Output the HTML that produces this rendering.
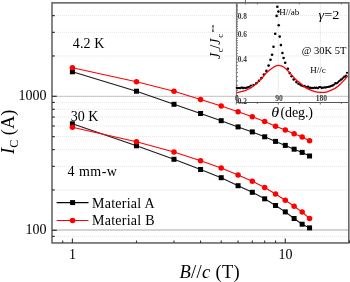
<!DOCTYPE html>
<html><head><meta charset="utf-8"><style>
html,body{margin:0;padding:0;background:#fff;width:350px;height:282px;overflow:hidden}
svg{display:block}
</style></head><body>
<svg width="350" height="282" viewBox="0 0 350 282">
<rect width="350" height="282" fill="#fff"/>
<line x1="52.0" y1="236.43" x2="348.8" y2="236.43" stroke="#dadada" stroke-width="0.7" stroke-dasharray="1 1"/>
<line x1="52.0" y1="189.96" x2="348.8" y2="189.96" stroke="#dadada" stroke-width="0.7" stroke-dasharray="1 1"/>
<line x1="52.0" y1="166.37" x2="348.8" y2="166.37" stroke="#dadada" stroke-width="0.7" stroke-dasharray="1 1"/>
<line x1="52.0" y1="149.62" x2="348.8" y2="149.62" stroke="#dadada" stroke-width="0.7" stroke-dasharray="1 1"/>
<line x1="52.0" y1="136.64" x2="348.8" y2="136.64" stroke="#dadada" stroke-width="0.7" stroke-dasharray="1 1"/>
<line x1="52.0" y1="126.03" x2="348.8" y2="126.03" stroke="#dadada" stroke-width="0.7" stroke-dasharray="1 1"/>
<line x1="52.0" y1="117.06" x2="348.8" y2="117.06" stroke="#dadada" stroke-width="0.7" stroke-dasharray="1 1"/>
<line x1="52.0" y1="109.29" x2="348.8" y2="109.29" stroke="#dadada" stroke-width="0.7" stroke-dasharray="1 1"/>
<line x1="52.0" y1="102.43" x2="348.8" y2="102.43" stroke="#dadada" stroke-width="0.7" stroke-dasharray="1 1"/>
<line x1="52.0" y1="55.96" x2="348.8" y2="55.96" stroke="#dadada" stroke-width="0.7" stroke-dasharray="1 1"/>
<line x1="52.0" y1="32.37" x2="348.8" y2="32.37" stroke="#dadada" stroke-width="0.7" stroke-dasharray="1 1"/>
<line x1="52.0" y1="15.62" x2="348.8" y2="15.62" stroke="#dadada" stroke-width="0.7" stroke-dasharray="1 1"/>
<line x1="52.0" y1="230.1" x2="348.8" y2="230.1" stroke="#c4c4c4" stroke-width="1.5"/>
<line x1="52.0" y1="96.35" x2="348.8" y2="96.35" stroke="#cdcdcd" stroke-width="1.1"/>
<polyline points="72.40,71.80 136.49,91.20 173.98,104.30 200.58,113.50 221.21,120.70 238.07,126.90 252.32,131.90 264.67,136.80 275.56,141.40 285.30,145.40 294.11,149.20 302.16,152.40 309.56,156.00" fill="none" stroke="#1a1a1a" stroke-width="1.1"/>
<polyline points="72.40,123.80 136.49,145.80 173.98,159.30 200.58,169.50 221.21,177.70 238.07,185.70 252.32,192.30 264.67,198.80 275.56,205.50 285.30,211.90 294.11,218.50 302.16,224.20 309.56,227.90" fill="none" stroke="#1a1a1a" stroke-width="1.1"/>
<polyline points="72.40,67.70 136.49,81.80 173.98,91.30 200.58,99.50 221.21,105.90 238.07,111.70 252.32,116.70 264.67,121.40 275.56,126.30 285.30,130.10 294.11,133.70 302.16,137.10 309.56,140.70" fill="none" stroke="#f00" stroke-width="1.1"/>
<polyline points="72.40,127.20 136.49,141.70 173.98,152.00 200.58,160.70 221.21,167.90 238.07,174.90 252.32,181.30 264.67,187.50 275.56,194.00 285.30,200.20 294.11,206.20 302.16,212.10 309.56,218.50" fill="none" stroke="#f00" stroke-width="1.1"/>
<rect x="69.90" y="69.30" width="5.0" height="5.0" fill="#000"/><rect x="133.99" y="88.70" width="5.0" height="5.0" fill="#000"/><rect x="171.48" y="101.80" width="5.0" height="5.0" fill="#000"/><rect x="198.08" y="111.00" width="5.0" height="5.0" fill="#000"/><rect x="218.71" y="118.20" width="5.0" height="5.0" fill="#000"/><rect x="235.57" y="124.40" width="5.0" height="5.0" fill="#000"/><rect x="249.82" y="129.40" width="5.0" height="5.0" fill="#000"/><rect x="262.17" y="134.30" width="5.0" height="5.0" fill="#000"/><rect x="273.06" y="138.90" width="5.0" height="5.0" fill="#000"/><rect x="282.80" y="142.90" width="5.0" height="5.0" fill="#000"/><rect x="291.61" y="146.70" width="5.0" height="5.0" fill="#000"/><rect x="299.66" y="149.90" width="5.0" height="5.0" fill="#000"/><rect x="307.06" y="153.50" width="5.0" height="5.0" fill="#000"/>
<rect x="69.90" y="121.30" width="5.0" height="5.0" fill="#000"/><rect x="133.99" y="143.30" width="5.0" height="5.0" fill="#000"/><rect x="171.48" y="156.80" width="5.0" height="5.0" fill="#000"/><rect x="198.08" y="167.00" width="5.0" height="5.0" fill="#000"/><rect x="218.71" y="175.20" width="5.0" height="5.0" fill="#000"/><rect x="235.57" y="183.20" width="5.0" height="5.0" fill="#000"/><rect x="249.82" y="189.80" width="5.0" height="5.0" fill="#000"/><rect x="262.17" y="196.30" width="5.0" height="5.0" fill="#000"/><rect x="273.06" y="203.00" width="5.0" height="5.0" fill="#000"/><rect x="282.80" y="209.40" width="5.0" height="5.0" fill="#000"/><rect x="291.61" y="216.00" width="5.0" height="5.0" fill="#000"/><rect x="299.66" y="221.70" width="5.0" height="5.0" fill="#000"/><rect x="307.06" y="225.40" width="5.0" height="5.0" fill="#000"/>
<circle cx="72.40" cy="67.70" r="2.75" fill="#f00"/><circle cx="136.49" cy="81.80" r="2.75" fill="#f00"/><circle cx="173.98" cy="91.30" r="2.75" fill="#f00"/><circle cx="200.58" cy="99.50" r="2.75" fill="#f00"/><circle cx="221.21" cy="105.90" r="2.75" fill="#f00"/><circle cx="238.07" cy="111.70" r="2.75" fill="#f00"/><circle cx="252.32" cy="116.70" r="2.75" fill="#f00"/><circle cx="264.67" cy="121.40" r="2.75" fill="#f00"/><circle cx="275.56" cy="126.30" r="2.75" fill="#f00"/><circle cx="285.30" cy="130.10" r="2.75" fill="#f00"/><circle cx="294.11" cy="133.70" r="2.75" fill="#f00"/><circle cx="302.16" cy="137.10" r="2.75" fill="#f00"/><circle cx="309.56" cy="140.70" r="2.75" fill="#f00"/>
<circle cx="72.40" cy="127.20" r="2.75" fill="#f00"/><circle cx="136.49" cy="141.70" r="2.75" fill="#f00"/><circle cx="173.98" cy="152.00" r="2.75" fill="#f00"/><circle cx="200.58" cy="160.70" r="2.75" fill="#f00"/><circle cx="221.21" cy="167.90" r="2.75" fill="#f00"/><circle cx="238.07" cy="174.90" r="2.75" fill="#f00"/><circle cx="252.32" cy="181.30" r="2.75" fill="#f00"/><circle cx="264.67" cy="187.50" r="2.75" fill="#f00"/><circle cx="275.56" cy="194.00" r="2.75" fill="#f00"/><circle cx="285.30" cy="200.20" r="2.75" fill="#f00"/><circle cx="294.11" cy="206.20" r="2.75" fill="#f00"/><circle cx="302.16" cy="212.10" r="2.75" fill="#f00"/><circle cx="309.56" cy="218.50" r="2.75" fill="#f00"/>
<line x1="236.4" y1="2.85" x2="236.4" y2="102.5" stroke="#7a7a7a" stroke-width="1"/>
<line x1="236.4" y1="102.5" x2="348.8" y2="102.5" stroke="#555" stroke-width="1"/>
<line x1="278.30" y1="2.85" x2="278.30" y2="102.5" stroke="#c8c8c8" stroke-width="0.8" stroke-dasharray="1 1.2"/>
<line x1="320.31" y1="2.85" x2="320.31" y2="102.5" stroke="#c8c8c8" stroke-width="0.8" stroke-dasharray="1 1.2"/>
<line x1="236.30" y1="102.5" x2="236.30" y2="104.5" stroke="#444" stroke-width="0.8"/>
<line x1="278.30" y1="102.5" x2="278.30" y2="104.5" stroke="#444" stroke-width="0.8"/>
<line x1="320.31" y1="102.5" x2="320.31" y2="104.5" stroke="#444" stroke-width="0.8"/>
<line x1="257.30" y1="102.5" x2="257.30" y2="103.8" stroke="#444" stroke-width="0.8"/>
<line x1="299.30" y1="102.5" x2="299.30" y2="103.8" stroke="#444" stroke-width="0.8"/>
<line x1="341.31" y1="102.5" x2="341.31" y2="103.8" stroke="#444" stroke-width="0.8"/>
<line x1="257.30" y1="2.85" x2="257.30" y2="4.35" stroke="#444" stroke-width="0.8"/>
<line x1="299.30" y1="2.85" x2="299.30" y2="4.35" stroke="#444" stroke-width="0.8"/>
<line x1="341.31" y1="2.85" x2="341.31" y2="4.35" stroke="#444" stroke-width="0.8"/>
<line x1="245.4" y1="0" x2="245.4" y2="4.35" stroke="#444" stroke-width="0.8"/>
<line x1="236.4" y1="101.45" x2="238.0" y2="101.45" stroke="#555" stroke-width="0.8"/>
<line x1="236.4" y1="95.62" x2="238.0" y2="95.62" stroke="#555" stroke-width="0.8"/>
<line x1="236.4" y1="90.29" x2="238.0" y2="90.29" stroke="#555" stroke-width="0.8"/>
<line x1="236.4" y1="85.39" x2="238.0" y2="85.39" stroke="#555" stroke-width="0.8"/>
<line x1="236.4" y1="80.85" x2="238.0" y2="80.85" stroke="#555" stroke-width="0.8"/>
<line x1="236.4" y1="76.63" x2="238.0" y2="76.63" stroke="#555" stroke-width="0.8"/>
<line x1="236.4" y1="72.67" x2="238.0" y2="72.67" stroke="#555" stroke-width="0.8"/>
<line x1="236.4" y1="68.96" x2="238.0" y2="68.96" stroke="#555" stroke-width="0.8"/>
<line x1="236.4" y1="65.46" x2="238.0" y2="65.46" stroke="#555" stroke-width="0.8"/>
<line x1="236.4" y1="62.15" x2="238.0" y2="62.15" stroke="#555" stroke-width="0.8"/>
<line x1="236.4" y1="59.01" x2="238.0" y2="59.01" stroke="#555" stroke-width="0.8"/>
<line x1="236.4" y1="56.02" x2="238.0" y2="56.02" stroke="#555" stroke-width="0.8"/>
<line x1="236.4" y1="53.17" x2="238.0" y2="53.17" stroke="#555" stroke-width="0.8"/>
<line x1="236.4" y1="50.45" x2="238.0" y2="50.45" stroke="#555" stroke-width="0.8"/>
<line x1="236.4" y1="47.84" x2="238.0" y2="47.84" stroke="#555" stroke-width="0.8"/>
<line x1="236.4" y1="45.35" x2="238.0" y2="45.35" stroke="#555" stroke-width="0.8"/>
<line x1="236.4" y1="42.94" x2="238.0" y2="42.94" stroke="#555" stroke-width="0.8"/>
<line x1="236.4" y1="40.63" x2="238.0" y2="40.63" stroke="#555" stroke-width="0.8"/>
<line x1="236.4" y1="38.41" x2="238.0" y2="38.41" stroke="#555" stroke-width="0.8"/>
<line x1="236.4" y1="36.26" x2="238.0" y2="36.26" stroke="#555" stroke-width="0.8"/>
<line x1="236.4" y1="34.18" x2="238.0" y2="34.18" stroke="#555" stroke-width="0.8"/>
<line x1="236.4" y1="32.17" x2="238.0" y2="32.17" stroke="#555" stroke-width="0.8"/>
<line x1="236.4" y1="30.23" x2="238.0" y2="30.23" stroke="#555" stroke-width="0.8"/>
<line x1="236.4" y1="28.34" x2="238.0" y2="28.34" stroke="#555" stroke-width="0.8"/>
<line x1="236.4" y1="26.52" x2="238.0" y2="26.52" stroke="#555" stroke-width="0.8"/>
<line x1="236.4" y1="24.74" x2="238.0" y2="24.74" stroke="#555" stroke-width="0.8"/>
<line x1="236.4" y1="23.02" x2="238.0" y2="23.02" stroke="#555" stroke-width="0.8"/>
<line x1="236.4" y1="21.34" x2="238.0" y2="21.34" stroke="#555" stroke-width="0.8"/>
<line x1="236.4" y1="19.71" x2="238.0" y2="19.71" stroke="#555" stroke-width="0.8"/>
<line x1="236.4" y1="18.11" x2="238.0" y2="18.11" stroke="#555" stroke-width="0.8"/>
<line x1="236.4" y1="16.56" x2="238.0" y2="16.56" stroke="#555" stroke-width="0.8"/>
<line x1="236.4" y1="15.05" x2="238.0" y2="15.05" stroke="#555" stroke-width="0.8"/>
<line x1="236.4" y1="13.58" x2="238.0" y2="13.58" stroke="#555" stroke-width="0.8"/>
<line x1="236.4" y1="12.14" x2="238.0" y2="12.14" stroke="#555" stroke-width="0.8"/>
<line x1="236.4" y1="10.73" x2="238.0" y2="10.73" stroke="#555" stroke-width="0.8"/>
<line x1="236.4" y1="9.35" x2="238.0" y2="9.35" stroke="#555" stroke-width="0.8"/>
<line x1="236.4" y1="8.01" x2="238.0" y2="8.01" stroke="#555" stroke-width="0.8"/>
<line x1="236.4" y1="6.69" x2="238.0" y2="6.69" stroke="#555" stroke-width="0.8"/>
<line x1="236.4" y1="5.40" x2="238.0" y2="5.40" stroke="#555" stroke-width="0.8"/>
<line x1="236.4" y1="4.14" x2="238.0" y2="4.14" stroke="#555" stroke-width="0.8"/>
<circle cx="277.30" cy="6.80" r="1.3" fill="#000"/><circle cx="278.40" cy="11.60" r="1.3" fill="#000"/><circle cx="276.60" cy="15.90" r="1.3" fill="#000"/><circle cx="278.70" cy="25.20" r="1.3" fill="#000"/><circle cx="275.20" cy="33.80" r="1.3" fill="#000"/><circle cx="279.70" cy="36.60" r="1.3" fill="#000"/><circle cx="273.50" cy="46.80" r="1.3" fill="#000"/><circle cx="280.90" cy="45.10" r="1.3" fill="#000"/><circle cx="272.10" cy="54.80" r="1.3" fill="#000"/><circle cx="282.40" cy="53.00" r="1.3" fill="#000"/><circle cx="270.50" cy="59.70" r="1.3" fill="#000"/><circle cx="268.60" cy="65.60" r="1.3" fill="#000"/><circle cx="266.40" cy="70.90" r="1.3" fill="#000"/><circle cx="263.90" cy="74.60" r="1.3" fill="#000"/><circle cx="261.40" cy="78.00" r="1.3" fill="#000"/><circle cx="258.90" cy="80.90" r="1.3" fill="#000"/><circle cx="256.30" cy="83.20" r="1.3" fill="#000"/><circle cx="253.60" cy="85.00" r="1.3" fill="#000"/><circle cx="283.60" cy="58.00" r="1.3" fill="#000"/><circle cx="285.20" cy="62.70" r="1.3" fill="#000"/><circle cx="287.90" cy="68.80" r="1.3" fill="#000"/><circle cx="289.70" cy="73.10" r="1.3" fill="#000"/><circle cx="291.60" cy="76.30" r="1.3" fill="#000"/><circle cx="293.70" cy="79.50" r="1.3" fill="#000"/><circle cx="296.40" cy="82.10" r="1.3" fill="#000"/><circle cx="298.50" cy="83.70" r="1.3" fill="#000"/><circle cx="236.80" cy="87.84" r="1.05" fill="#000"/><circle cx="237.70" cy="88.13" r="1.05" fill="#000"/><circle cx="238.60" cy="87.95" r="1.05" fill="#000"/><circle cx="239.50" cy="88.17" r="1.05" fill="#000"/><circle cx="240.40" cy="88.18" r="1.05" fill="#000"/><circle cx="241.30" cy="87.61" r="1.05" fill="#000"/><circle cx="242.20" cy="87.55" r="1.05" fill="#000"/><circle cx="243.10" cy="88.36" r="1.05" fill="#000"/><circle cx="244.00" cy="87.77" r="1.05" fill="#000"/><circle cx="244.90" cy="87.74" r="1.05" fill="#000"/><circle cx="245.80" cy="88.28" r="1.05" fill="#000"/><circle cx="246.70" cy="87.50" r="1.05" fill="#000"/><circle cx="247.60" cy="87.62" r="1.05" fill="#000"/><circle cx="248.50" cy="87.01" r="1.05" fill="#000"/><circle cx="249.75" cy="86.64" r="1.05" fill="#000"/><circle cx="251.00" cy="85.48" r="1.05" fill="#000"/><circle cx="300.20" cy="84.87" r="1.05" fill="#000"/><circle cx="301.10" cy="85.56" r="1.05" fill="#000"/><circle cx="302.00" cy="85.43" r="1.05" fill="#000"/><circle cx="302.90" cy="86.10" r="1.05" fill="#000"/><circle cx="303.80" cy="86.36" r="1.05" fill="#000"/><circle cx="304.70" cy="85.87" r="1.05" fill="#000"/><circle cx="305.60" cy="87.08" r="1.05" fill="#000"/><circle cx="306.50" cy="87.03" r="1.05" fill="#000"/><circle cx="307.40" cy="86.80" r="1.05" fill="#000"/><circle cx="308.30" cy="86.60" r="1.05" fill="#000"/><circle cx="309.20" cy="87.95" r="1.05" fill="#000"/><circle cx="310.10" cy="87.56" r="1.05" fill="#000"/><circle cx="311.00" cy="87.91" r="1.05" fill="#000"/><circle cx="311.90" cy="88.13" r="1.05" fill="#000"/><circle cx="312.80" cy="87.90" r="1.05" fill="#000"/><circle cx="313.70" cy="88.19" r="1.05" fill="#000"/><circle cx="314.60" cy="87.45" r="1.05" fill="#000"/><circle cx="315.50" cy="88.02" r="1.05" fill="#000"/><circle cx="316.40" cy="87.52" r="1.05" fill="#000"/><circle cx="317.30" cy="88.21" r="1.05" fill="#000"/><circle cx="318.20" cy="88.13" r="1.05" fill="#000"/><circle cx="319.10" cy="87.04" r="1.05" fill="#000"/><circle cx="320.00" cy="87.09" r="1.05" fill="#000"/><circle cx="320.90" cy="87.20" r="1.05" fill="#000"/><circle cx="321.80" cy="88.25" r="1.05" fill="#000"/><circle cx="322.70" cy="87.51" r="1.05" fill="#000"/><circle cx="323.60" cy="87.78" r="1.05" fill="#000"/><circle cx="324.50" cy="87.32" r="1.05" fill="#000"/><circle cx="325.40" cy="87.61" r="1.05" fill="#000"/><circle cx="326.30" cy="87.33" r="1.05" fill="#000"/><circle cx="327.20" cy="86.94" r="1.05" fill="#000"/><circle cx="328.10" cy="86.93" r="1.05" fill="#000"/><circle cx="329.00" cy="86.59" r="1.05" fill="#000"/><circle cx="329.90" cy="86.70" r="1.05" fill="#000"/><circle cx="330.80" cy="85.99" r="1.05" fill="#000"/><circle cx="331.70" cy="85.92" r="1.05" fill="#000"/><circle cx="332.60" cy="85.40" r="1.05" fill="#000"/><circle cx="333.50" cy="85.18" r="1.05" fill="#000"/><circle cx="334.40" cy="84.32" r="1.05" fill="#000"/><circle cx="335.30" cy="83.12" r="1.05" fill="#000"/><circle cx="336.20" cy="83.49" r="1.05" fill="#000"/><circle cx="337.10" cy="83.02" r="1.05" fill="#000"/><circle cx="338.00" cy="82.33" r="1.05" fill="#000"/><circle cx="338.90" cy="81.24" r="1.05" fill="#000"/><circle cx="339.80" cy="80.84" r="1.05" fill="#000"/><circle cx="340.70" cy="79.45" r="1.05" fill="#000"/><circle cx="341.60" cy="79.62" r="1.05" fill="#000"/><circle cx="342.50" cy="78.55" r="1.05" fill="#000"/><circle cx="343.40" cy="77.45" r="1.05" fill="#000"/><circle cx="344.30" cy="76.43" r="1.05" fill="#000"/><circle cx="345.20" cy="76.69" r="1.05" fill="#000"/><circle cx="346.10" cy="75.49" r="1.05" fill="#000"/><circle cx="347.00" cy="72.85" r="1.05" fill="#000"/>
<path d="M236.5,93 C236.80,92.90 236.85,92.78 238.3,92.4 C239.75,92.02 243.28,91.37 245.2,90.7 C247.12,90.03 248.27,89.32 249.8,88.4 C251.33,87.48 252.87,86.42 254.4,85.2 C255.93,83.98 257.73,82.27 259,81.1 C260.27,79.93 261.00,79.35 262,78.2 C263.00,77.05 263.67,75.62 265,74.2 C266.33,72.78 268.33,71.02 270,69.7 C271.67,68.38 273.58,67.03 275,66.3 C276.42,65.57 277.33,65.32 278.5,65.3 C279.67,65.28 280.92,65.77 282,66.2 C283.08,66.63 283.67,66.77 285,67.9 C286.33,69.03 288.17,71.03 290,73 C291.83,74.97 294.33,78.05 296,79.7 C297.67,81.35 298.50,81.67 300,82.9 C301.50,84.13 303.33,85.93 305,87.1 C306.67,88.27 308.33,89.13 310,89.9 C311.67,90.67 313.33,91.28 315,91.7 C316.67,92.12 318.17,92.32 320,92.4 C321.83,92.48 324.33,92.50 326,92.2 C327.67,91.90 328.50,91.23 330,90.6 C331.50,89.97 333.33,89.43 335,88.4 C336.67,87.37 338.33,85.92 340,84.4 C341.67,82.88 343.63,80.77 345,79.3 C346.37,77.83 347.67,76.22 348.2,75.6" fill="none" stroke="#f00" stroke-width="1.3"/>
<rect x="52.0" y="2.85" width="296.80" height="240.10" fill="none" stroke="#686868" stroke-width="1.6"/>
<line x1="52.0" y1="230.30" x2="56.8" y2="230.30" stroke="#333" stroke-width="1.2"/>
<line x1="52.0" y1="96.30" x2="56.8" y2="96.30" stroke="#333" stroke-width="1.2"/>
<line x1="52.0" y1="236.43" x2="54.8" y2="236.43" stroke="#333" stroke-width="1.2"/>
<line x1="52.0" y1="189.96" x2="54.8" y2="189.96" stroke="#333" stroke-width="1.2"/>
<line x1="52.0" y1="166.37" x2="54.8" y2="166.37" stroke="#333" stroke-width="1.2"/>
<line x1="52.0" y1="149.62" x2="54.8" y2="149.62" stroke="#333" stroke-width="1.2"/>
<line x1="52.0" y1="136.64" x2="54.8" y2="136.64" stroke="#333" stroke-width="1.2"/>
<line x1="52.0" y1="126.03" x2="54.8" y2="126.03" stroke="#333" stroke-width="1.2"/>
<line x1="52.0" y1="117.06" x2="54.8" y2="117.06" stroke="#333" stroke-width="1.2"/>
<line x1="52.0" y1="109.29" x2="54.8" y2="109.29" stroke="#333" stroke-width="1.2"/>
<line x1="52.0" y1="102.43" x2="54.8" y2="102.43" stroke="#333" stroke-width="1.2"/>
<line x1="52.0" y1="55.96" x2="54.8" y2="55.96" stroke="#333" stroke-width="1.2"/>
<line x1="52.0" y1="32.37" x2="54.8" y2="32.37" stroke="#333" stroke-width="1.2"/>
<line x1="52.0" y1="15.62" x2="54.8" y2="15.62" stroke="#333" stroke-width="1.2"/>
<line x1="72.40" y1="238.45" x2="72.40" y2="242.95" stroke="#333" stroke-width="1.1"/>
<line x1="285.30" y1="238.45" x2="285.30" y2="242.95" stroke="#333" stroke-width="1.1"/>
<line x1="62.66" y1="240.54999999999998" x2="62.66" y2="242.95" stroke="#333" stroke-width="1.1"/>
<line x1="136.49" y1="240.54999999999998" x2="136.49" y2="242.95" stroke="#333" stroke-width="1.1"/>
<line x1="173.98" y1="240.54999999999998" x2="173.98" y2="242.95" stroke="#333" stroke-width="1.1"/>
<line x1="200.58" y1="240.54999999999998" x2="200.58" y2="242.95" stroke="#333" stroke-width="1.1"/>
<line x1="221.21" y1="240.54999999999998" x2="221.21" y2="242.95" stroke="#333" stroke-width="1.1"/>
<line x1="238.07" y1="240.54999999999998" x2="238.07" y2="242.95" stroke="#333" stroke-width="1.1"/>
<line x1="252.32" y1="240.54999999999998" x2="252.32" y2="242.95" stroke="#333" stroke-width="1.1"/>
<line x1="264.67" y1="240.54999999999998" x2="264.67" y2="242.95" stroke="#333" stroke-width="1.1"/>
<line x1="275.56" y1="240.54999999999998" x2="275.56" y2="242.95" stroke="#333" stroke-width="1.1"/>
<line x1="349.39" y1="240.54999999999998" x2="349.39" y2="242.95" stroke="#333" stroke-width="1.1"/>
<line x1="56.6" y1="202.6" x2="88.5" y2="202.6" stroke="#000" stroke-width="1.1"/>
<rect x="70.1" y="200.1" width="5" height="5" fill="#000"/>
<line x1="56.6" y1="220.5" x2="88.5" y2="220.5" stroke="#f00" stroke-width="1.1"/>
<circle cx="72.6" cy="220.5" r="2.8" fill="#f00"/>
<g style="filter:grayscale(1)">
<text x="92.1" y="208" font-family="Liberation Serif" font-size="14" textLength="62.4" lengthAdjust="spacing">Material A</text>
<text x="92.1" y="225" font-family="Liberation Serif" font-size="14" textLength="62.4" lengthAdjust="spacing">Material B</text>
<text x="72.8" y="47.6" font-family="Liberation Serif" font-size="14" textLength="31.6" lengthAdjust="spacing">4.2 K</text>
<text x="70.8" y="120.5" font-family="Liberation Serif" font-size="14">30 K</text>
<text x="67.6" y="176" font-family="Liberation Serif" font-size="14" textLength="49.3" lengthAdjust="spacing">4 mm-w</text>
<text x="46.6" y="100.3" font-family="Liberation Serif" font-size="14" text-anchor="end">1000</text>
<text x="46.4" y="234.3" font-family="Liberation Serif" font-size="14" text-anchor="end">100</text>
<text x="72.4" y="259.3" font-family="Liberation Serif" font-size="14" text-anchor="middle">1</text>
<text x="285.6" y="259.2" font-family="Liberation Serif" font-size="14" text-anchor="middle">10</text>
<text x="179.5" y="277.6" font-family="Liberation Serif" font-size="18.5" textLength="60.2" lengthAdjust="spacing"><tspan font-style="italic">B</tspan>//<tspan font-style="italic">c</tspan> (T)</text>
<text transform="translate(14,154) rotate(-90)" font-family="Liberation Serif" font-size="18.5"><tspan font-style="italic">I</tspan><tspan font-size="12" dy="3.5">C</tspan><tspan dy="-3.5"> (A)</tspan></text>
<text x="279.2" y="15.1" font-family="Liberation Serif" font-size="9">H//ab</text>
<text x="310.2" y="73.4" font-family="Liberation Serif" font-size="9">H//c</text>
<text x="318.6" y="19.4" font-family="Liberation Serif" font-size="13" textLength="20.8" lengthAdjust="spacingAndGlyphs"><tspan font-style="italic">γ</tspan>=2</text>
<text x="301.8" y="54.2" font-family="Liberation Serif" font-size="10.5">@ 30K 5T</text>
<text x="271.3" y="116.8" font-family="Liberation Serif" font-size="14" font-style="italic" transform="translate(271.3,0) scale(1.15,1) translate(-271.3,0)">θ</text>
<text x="280.4" y="116.8" font-family="Liberation Serif" font-size="14" textLength="32.6" lengthAdjust="spacing">(deg.)</text>
<text x="237.7" y="19.1" font-family="Liberation Serif" font-size="7.3" font-weight="bold" fill="#3a3a3a">0.8</text>
<text x="237.7" y="36.7" font-family="Liberation Serif" font-size="7.3" font-weight="bold" fill="#3a3a3a">0.6</text>
<text x="237.7" y="61.7" font-family="Liberation Serif" font-size="7.3" font-weight="bold" fill="#3a3a3a">0.4</text>
<text x="237.7" y="104.0" font-family="Liberation Serif" font-size="7.3" font-weight="bold" fill="#3a3a3a">0.2</text>
<text x="236.9" y="100.6" font-family="Liberation Serif" font-size="7.6" font-weight="bold" text-anchor="middle" fill="#3a3a3a">0</text>
<text x="279.1" y="100.6" font-family="Liberation Serif" font-size="7.6" font-weight="bold" text-anchor="middle" fill="#3a3a3a">90</text>
<text x="321.4" y="100.6" font-family="Liberation Serif" font-size="7.6" font-weight="bold" text-anchor="middle" fill="#3a3a3a">180</text>
<text transform="translate(219.8,59.6) rotate(-90)" font-family="Liberation Serif" font-size="14"><tspan x="0.5" y="0" font-style="italic">J</tspan><tspan x="7.4" y="3" font-size="8.5">c</tspan><tspan x="10.9" y="0">/</tspan><tspan x="14.8" y="0" font-style="italic">J</tspan><tspan x="21.9" y="3" font-size="8.5">c</tspan><tspan x="27.6" y="-5.4" font-size="4.6">min</tspan></text>
</g>
</svg>
</body></html>
